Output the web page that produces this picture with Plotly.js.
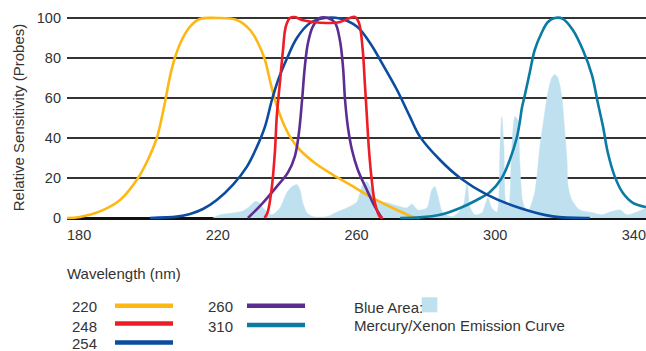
<!DOCTYPE html>
<html>
<head>
<meta charset="utf-8">
<script src="https://cdn.plot.ly/plotly-3.0.1.min.js"></script>
<style>html,body{margin:0;padding:0;background:#fff;}#chart{width:646px;height:351px;}</style>
</head>
<body>
<div id="chart"></div>
<script>
// ---- data ----
const xTicks = [180, 220, 260, 300, 340];
const yTicks = [0, 20, 40, 60, 80, 100];

const x220 = [176.5,180.2,186.0,191.8,197.0,199.8,202.4,203.9,205.0,206.2,207.6,209.6,212.0,214.8,219.7,225.5,229.3,231.6,233.6,235.0,236.5,238.5,240.8,243.7,248.0,253.2,258.1,263.9,269.6,276.3,278];
const y220 = [0,0.5,3.3,9,20,29,40,50.7,60,70.7,80,89,95.7,99.5,100,99,94,87.5,79,69,59,49,40.7,34,27.5,21.6,16.7,10.7,5.7,0.5,0];

const x248 = [233.5,234.4,235.6,236.5,237.0,237.9,238.8,239.6,240.8,242.2,244.3,247.4,251.5,255.2,258.1,259.5,260.7,261.8,262.4,263.0,263.6,264.4,265.3,266.7,267.6];
const y248 = [0,3,15.7,34,50.7,67.5,84,95.7,100,100.5,99,98,97.5,98,100,100.5,97.6,84,67.5,50.7,34,19,7.6,0.7,0];

const x254 = [200.4,208.2,212.0,215.7,219.7,224.4,228.4,231.3,233.6,235.6,237.4,240.0,242.8,246.6,250.9,255.2,260.1,263.9,267.6,271.7,275.4,278.3,284.1,289.9,297.6,307.1,316.6,327.3];
const y254 = [0,0.7,2,4.5,9,16.7,25.7,35.7,45.7,59,69,80,90,97.5,100,99.7,95.7,87.5,76.7,64,50.7,40.7,29,20,11.7,5,0.8,0];

const x260 = [228.7,233.0,237.0,240.2,242.2,243.4,244.3,245.1,246.0,247.4,249.4,251.7,253.8,255.2,256.1,256.7,257.5,258.7,260.4,263.0,265.3,267.3];
const y260 = [0,7.6,15.7,22.7,30.7,42.7,59,75.7,87.5,95.7,100,100,97.6,89,75.7,59,45.7,34,24,14,5.7,0];

const x310 = [272.6,278.3,284.1,289.9,294.7,298.5,301.9,304.2,306.2,307.1,307.7,308.5,310.0,311.4,313.4,315.2,317.2,319.5,322.4,325.3,327.9,329.6,331.1,332.5,334.5,336.8,339.7,343.5];
const y310 = [0,0.3,1.6,5,9,13,20,29,40,48,55,61,73,84,92.6,98,100,99.6,94,84,71.6,57.6,45.7,32.6,20.7,12.6,7.6,5.5];

const xHg = [218.6,220.6,224.4,227.2,229.3,230.7,231.6,233.6,235.6,237.9,239.9,241.4,242.8,243.7,244.5,245.7,247.4,251.5,254.4,257.2,260.1,261.8,263.0,264.4,265.9,268.8,272.5,274.5,276.0,277.7,280.3,281.7,282.6,283.5,284.9,287.8,290.7,291.9,292.7,294.1,296.2,297.9,299.0,300.5,301.4,301.9,302.5,303.1,303.9,304.8,305.7,306.5,307.1,308.0,309.4,311.4,312.9,314.3,315.2,316.3,317.2,318.1,319.2,320.1,320.7,321.0,322.1,324.4,328.2,330.8,333.1,336.0,338.0,340.9,343.5];
const yHg = [0,1.6,2.5,3.5,6,8.3,8,4,1.6,5,12.6,15.7,16.7,14,7.6,2.6,0.7,0.7,3,5,8,16.7,18,14,9,7.6,5.7,5,7,4,5,14,15.7,10.7,2.6,0.7,5.7,17.5,5.7,1.6,2.6,10,5,3,35.7,50.7,35.7,7.6,5.7,35.7,50.7,49,27.5,7.6,3,12.6,35.7,52.6,62.6,70,71.7,70,60.7,42.6,29,16,9,4,2.6,1.6,3,4,1.6,3,5];

const legendNames = ['220', '248', '254', '260', '310'];
const colors = {'220': '#FDB813', '248': '#EE1C25', '254': '#0B4C9F', '260': '#5C2D91', '310': '#0A7BA3', hg: '#BFE0EF'};

// ---- layout helpers (pixel -> paper) ----
const L = 67, T = 15, W = 579, H = 205;
const X = px => (px - L) / W;
const Y = py => (T + H - py) / H;
const FONT = 'Liberation Sans, Arial, Helvetica, sans-serif';
const TXT = '#333333';

const lineTrace = (x, y, c) => ({x, y, type: 'scatter', mode: 'lines', line: {color: c, width: 2.6, shape: 'spline', smoothing: 1}, hoverinfo: 'skip'});

const data = [
  {x: xHg, y: yHg, type: 'scatter', mode: 'lines', fill: 'tozeroy', fillcolor: colors.hg, line: {color: colors.hg, width: 0.5, shape: 'spline', smoothing: 0.7}, hoverinfo: 'skip'},
  lineTrace(x220, y220, colors['220']),
  lineTrace(x310, y310, colors['310']),
  lineTrace(x254, y254, colors['254']),
  lineTrace(x260, y260, colors['260']),
  lineTrace(x248, y248, colors['248'])
];

const ann = (text, px, py, size) => ({text, xref: 'paper', yref: 'paper', x: X(px), y: Y(py), xanchor: 'left', yanchor: 'middle', showarrow: false, borderpad: 0, font: {family: FONT, size: size || 15, color: TXT}});
const swatch = (c, x0, x1, py) => ({type: 'line', xref: 'paper', yref: 'paper', x0: X(x0), x1: X(x1), y0: Y(py), y1: Y(py), line: {color: c, width: 4.5}});

const annotations = [
  ann('Wavelength (nm)', 66, 273),
  ann(legendNames[0], 71, 306.5), ann(legendNames[1], 71, 326), ann(legendNames[2], 71, 343.5),
  ann(legendNames[3], 206.5, 306.5), ann(legendNames[4], 206.5, 326),
  ann('Blue Area:', 353, 307), ann('Mercury/Xenon Emission Curve', 353, 325.5)
];
const shapes = [
  swatch(colors['220'], 115, 173, 305.7),
  swatch(colors['248'], 115, 173, 323.5),
  swatch(colors['254'], 115, 173, 342.5),
  swatch(colors['260'], 247, 305, 305.7),
  swatch(colors['310'], 247, 305, 325),
  {type: 'rect', xref: 'paper', yref: 'paper', x0: X(421.7), x1: X(437.3), y0: Y(312.3), y1: Y(297.3), fillcolor: colors.hg, line: {width: 0}}
];

const layout = {
  width: 646, height: 351,
  margin: {l: L, r: 646 - L - W, t: T, b: 351 - T - H, pad: 0},
  paper_bgcolor: '#fff', plot_bgcolor: '#fff',
  showlegend: false,
  font: {family: FONT, size: 14.5, color: TXT},
  xaxis: {range: [176.5, 343.5], tickvals: xTicks, ticktext: xTicks.map(String), showgrid: false, zeroline: false, showline: false, ticks: '', ticklabelstandoff: 4, fixedrange: true},
  yaxis: {range: [-1, 101.5], tickvals: yTicks, ticktext: yTicks.map(String), showgrid: true, gridcolor: '#333', gridwidth: 1.4,
    zeroline: true, zerolinecolor: '#111', zerolinewidth: 3, showline: false, ticks: '', ticklabelstandoff: 5,
    title: {text: 'Relative Sensitivity (Probes)', font: {family: FONT, size: 15, color: TXT}, standoff: 8}, automargin: false, fixedrange: true},
  annotations, shapes
};

Plotly.newPlot('chart', data, layout, {staticPlot: true, displayModeBar: false});
</script>
</body>
</html>
